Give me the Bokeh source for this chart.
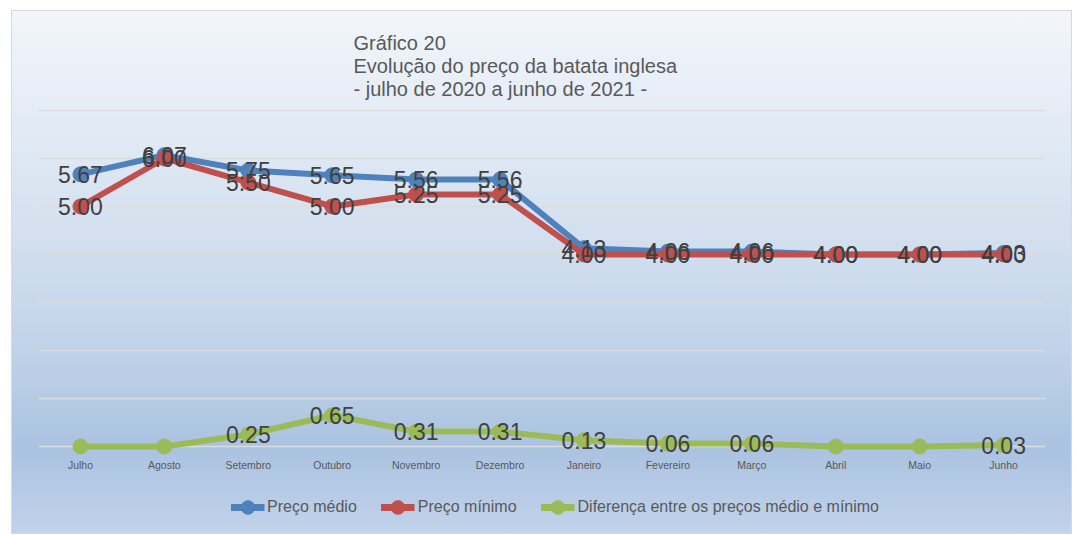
from bokeh.plotting import figure
from bokeh.layouts import column
from bokeh.models import (ColumnDataSource, Range1d, FactorRange, Legend,
                          LegendItem, FixedTicker, Title)
from bokeh.core.properties import value
from bokeh.embed import file_html
from bokeh.resources import INLINE

meses = ["Julho", "Agosto", "Setembro", "Outubro", "Novembro", "Dezembro",
         "Janeiro", "Fevereiro", "Março", "Abril", "Maio", "Junho"]
preco_medio = [5.67, 6.07, 5.75, 5.65, 5.56, 5.56, 4.13, 4.06, 4.06, 4.00, 4.00, 4.03]
preco_minimo = [5.00, 6.00, 5.50, 5.00, 5.25, 5.25, 4.00, 4.00, 4.00, 4.00, 4.00, 4.00]
diferenca = [0.00, 0.00, 0.25, 0.65, 0.31, 0.31, 0.13, 0.06, 0.06, 0.00, 0.00, 0.03]
titulo = ["Gráfico 20", "Evolução do preço da batata inglesa",
          "- julho de 2020 a junho de 2021 -"]
nomes = ["Preço médio", "Preço mínimo", "Diferença entre os preços médio e mínimo"]

AZUL, VERMELHO, VERDE = "#4f81bd", "#c0504d", "#9bbb59"
CORES = [AZUL, VERMELHO, VERDE]
FONT = "Liberation Sans"

W, H1, H2 = 1061, 470, 54
SHIFT = 26

# ---- main chart ----
p = figure(width=W, height=H1, output_backend="svg", toolbar_location=None,
           x_range=FactorRange(*meses, range_padding=0),
           y_range=Range1d(-0.1875, 7.208),
           min_border_left=27, min_border_right=27, min_border_top=90,
           min_border_bottom=25)
p.background_fill_color = None
p.border_fill_color = None
p.outline_line_color = None

p.yaxis.visible = False
p.ygrid.ticker = FixedTicker(ticks=[0, 1, 2, 3, 4, 5, 6, 7])
p.ygrid.grid_line_color = "#dcdcdc"
p.ygrid.grid_line_width = 1.5
p.xgrid.grid_line_color = None

p.xaxis.axis_line_color = None
p.xaxis.major_tick_line_color = None
p.xaxis.minor_tick_line_color = None
p.xaxis.major_label_standoff = -3
p.xaxis.major_label_text_font = FONT
p.xaxis.major_label_text_font_size = "10.5px"
p.xaxis.major_label_text_color = "#595959"

def fmt(v, hide_zero=False):
    if hide_zero and v == 0:
        return ""
    return f"{v:.2f}"

src = ColumnDataSource(dict(
    x=meses, medio=preco_medio, minimo=preco_minimo, dif=diferenca,
    lm=[fmt(v) for v in preco_medio],
    ln=[fmt(v) for v in preco_minimo],
    ld=[fmt(v, True) for v in diferenca],
))

SERIES = ["medio", "minimo", "dif"]
for col, cor in zip(SERIES, CORES):
    p.line("x", col, source=src, line_color=cor, line_width=6, line_join="round")
    p.scatter("x", col, source=src, size=15, fill_color=cor, line_color=cor)

for col, ycol in [("lm", "medio"), ("ln", "minimo"), ("ld", "dif")]:
    p.text("x", ycol, text=col, source=src, text_align="center",
           text_baseline="middle", text_font=value(FONT),
           text_font_size="23px", text_color="#404040")

p.add_layout(Title(text="\n".join(titulo), align="left", offset=315, standoff=1,
                   text_font=FONT, text_font_size="20px", text_font_style="normal",
                   text_color="#595959", text_line_height=1.05), "above")

# ---- legend strip (same series, drawn outside its visible y-range) ----
q = figure(width=W - SHIFT, height=H2, output_backend="svg", toolbar_location=None,
           x_axis_type=None, y_axis_type=None,
           x_range=p.x_range, y_range=Range1d(20, 21),
           min_border_left=0, min_border_right=0, min_border_top=0,
           min_border_bottom=0)
q.margin = (0, 0, 0, SHIFT)
q.background_fill_color = None
q.border_fill_color = None
q.outline_line_color = None
q.grid.grid_line_color = None

items = []
for nome, col, cor in zip(nomes, SERIES, CORES):
    l = q.line("x", col, source=src, line_color=cor, line_width=7)
    c = q.scatter("x", col, source=src, size=15, fill_color=cor, line_color=cor)
    items.append(LegendItem(label=nome, renderers=[l, c]))

legend = Legend(items=items, orientation="horizontal", location="center",
                glyph_width=34, glyph_height=40, label_standoff=3, spacing=24,
                padding=0, margin=0, border_line_color=None,
                background_fill_alpha=0, label_text_font=FONT,
                label_text_font_size="16px", label_text_color="#595959")
q.add_layout(legend, "center")

layout = column(p, q, spacing=0)
layout.styles = {"margin-left": "11px", "margin-top": "10px",
                 "background": "linear-gradient(to bottom, #f2f6fb 0%, #dde7f3 30%, "
                               "#c5d6ea 60%, #aac3e1 84%, #b7cbe6 92%, #c2d3ea 100%)",
                 "box-shadow": "inset 0 0 0 1px #d9d9d9"}

open("out.html", "w").write(file_html(layout, INLINE))
